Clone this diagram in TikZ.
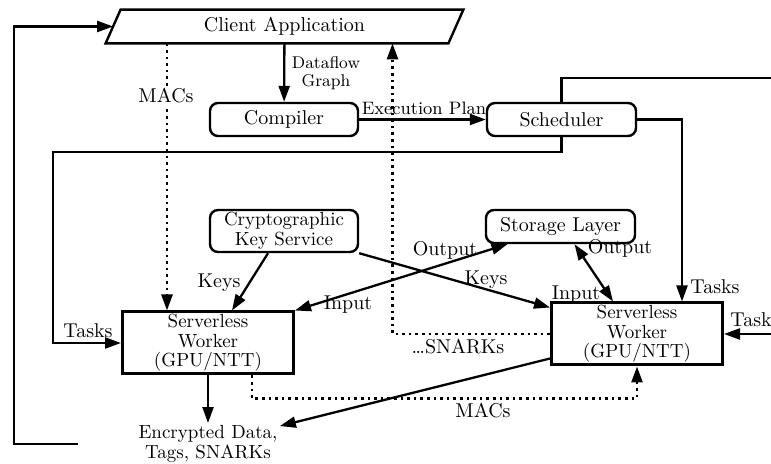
\documentclass[tikz,border=0pt]{standalone}
\usetikzlibrary{arrows.meta,calc}
\begin{document}
\begin{tikzpicture}[x=0.5pt,y=-0.5pt,
  >={Triangle[length=8pt,width=5.5pt]},
  rbox/.style={draw,line width=1.2pt,rounded corners=4pt,align=center,inner sep=1pt},
  wbox/.style={draw,line width=1.5pt,align=center,inner sep=1pt,minimum width=85.5pt,minimum height=31pt,font=\fontsize{9.5}{9.8}\selectfont},
  lbl/.style={inner sep=1pt},
  slbl/.style={inner sep=1pt,font=\small},
  conn/.style={line width=1.15pt},
  dconn/.style={line width=1.3pt,dotted}]
\useasboundingbox (0,0) rectangle (771,464);

% nodes
\node[minimum width=171pt,minimum height=16.5pt,inner sep=0pt] (client) at (284.5,26.5) {Client Application};
\draw[line width=1.2pt] ([xshift=3.75pt]client.north west) -- ([xshift=3.75pt]client.north east)
  -- ([xshift=-3.75pt]client.south east) -- ([xshift=-3.75pt]client.south west) -- cycle;
\node[rbox,minimum width=74pt,minimum height=16.5pt] (comp) at (284,119.5) {Compiler};
\node[rbox,minimum width=74.5pt,minimum height=16.5pt] (sched) at (561.5,119.5) {Scheduler};
\node[rbox,minimum width=74pt,minimum height=21pt,font=\fontsize{9.5}{10}\selectfont] (ks) at (284,231) {Cryptographic\\Key Service};
\node[rbox,minimum width=74.5pt,minimum height=16.5pt] (store) at (560.5,226.5) {Storage Layer};
\node[wbox] (w1) at (208,343) {Serverless\\Worker\\(GPU/NTT)};
\node[wbox] (w2) at (637,334) {Serverless\\Worker\\(GPU/NTT)};
\node[align=center,inner sep=1pt,font=\fontsize{9.5}{10}\selectfont] (enc) at (208,444) {Encrypted Data,\\Tags, SNARKs};

% free ends
\coordinate (loopstart) at (78,444);
\coordinate (schedout) at (771,78);
\coordinate (w2in) at (771,334);
\coordinate (tasksL) at (53,152);

% connectors
\draw[conn,->] (client) -- (comp);
\draw[conn,->] (comp) -- (sched);
\draw[conn,->] (sched.south) |- (tasksL) |- (w1.west);
\draw[conn] (sched.north) |- (schedout);
\draw[conn,->] (sched.east) -| ([xshift=22.5pt]w2.north);
\draw[conn,->] (w2in) -- (w2.east);
\draw[conn,->] ([xshift=-8pt]ks.south) -- ([xshift=12pt]w1.north);
\draw[conn,->] (ks.south east) -- ([yshift=-3pt]w2.north west);
\draw[conn,<->] (w1.north east) -- ([xshift=-26.5pt]store.south);
\draw[conn,<->] ([xshift=7pt]store.south) -- ([xshift=-12pt]w2.north);
\draw[conn,->] (w1) -- (enc);
\draw[conn,->] ([yshift=4pt]w2.south west) -- (enc);
\draw[conn,->] (loopstart) -- ++(-64,0) |- (client.west);

\path ([xshift=-20.5pt]w1.north) coordinate (m1);
\draw[dconn,->] (client.south -| m1) -- (m1);
\draw[dconn,->] ([xshift=22pt]w1.south) -- ++(0,23) -| (w2.south);
\draw[dconn,->] (w2.west) -| ([xshift=54pt]client.south);

% labels
\node[slbl,align=center,font=\fontsize{8.5}{9}\selectfont] at (326,73) {Dataflow\\Graph};
\node[lbl,fill=white] at (166,96) {MACs};
\node[slbl] at (424,108) {Execution Plan};
\node[lbl] at (88,331) {Tasks};
\node[lbl] at (219,283) {Keys};
\node[lbl] at (486,280) {Keys};
\node[lbl] at (445,250) {Output};
\node[lbl] at (348,305) {Input};
\node[lbl] at (620,248) {Output};
\node[lbl] at (576,295) {Input};
\node[lbl] at (715,287) {Tasks};
\node[lbl] at (755,320) {Tasks};
\node[lbl] at (458,347) {\ldots SNARKs};
\node[lbl] at (483,411) {MACs};
\end{tikzpicture}
\end{document}
